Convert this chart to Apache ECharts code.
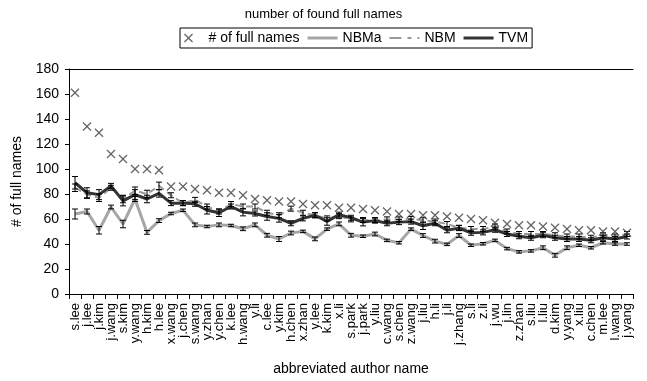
<!DOCTYPE html>
<html>
<head>
<meta charset="utf-8">
<script src="https://cdn.jsdelivr.net/npm/echarts@6/dist/echarts.min.js"></script>
<style>
  html, body { margin: 0; padding: 0; background: #fff; }
  #chart { width: 647px; height: 381px; }
</style>
</head>
<body>
<div id="chart"></div>
<script>
// Abbreviated author names (x axis categories)
const categories = [
  's.lee', 'j.lee', 'j.kim', 'j.wang', 's.kim', 'y.wang', 'h.kim', 'h.lee',
  'x.wang', 'j.chen', 's.wang', 'y.zhan', 'y.chen', 'k.lee', 'h.wang', 'y.li',
  'c.lee', 'y.kim', 'h.chen', 'x.zhan', 'y.lee', 'k.kim', 'x.li', 's.park',
  'j.park', 'y.liu', 'c.wang', 's.chen', 'z.wang', 'j.liu', 'h.li', 'j.li',
  'j.zhang', 's.li', 'z.li', 'j.wu', 'j.lin', 'z.zhan', 's.liu', 'l.liu',
  'd.kim', 'y.yang', 'x.liu', 'c.chen', 'm.lee', 'l.wang', 'j.yang'
];

// Number of full names found for each abbreviation
const fullNames = [
  161, 134, 129, 112, 108, 100, 100, 99,
  86, 86, 84, 83, 81, 81, 79, 76,
  75, 74, 74, 72, 71, 71, 69, 69,
  68, 67, 66, 64, 64, 63, 63, 62,
  61, 60, 59, 57, 56, 55, 55, 54,
  53, 52, 51, 51, 50, 50, 49
];

// NBMa: mean and error
const nbmaMean = [
  64, 66, 51, 69.6, 56, 76, 49.3, 58.7,
  64.4, 67, 55.3, 54, 55.3, 54.8, 52.2, 55.3,
  47, 44, 48.8, 50.1, 44.1, 51.9, 56.1, 47,
  46.2, 48, 42.9, 41, 51.9, 46.8, 42.3, 39.7,
  46.8, 39, 40.2, 42.9, 36.3, 33.7, 34.5, 37,
  31, 37, 39, 37, 41, 40, 40
];
const nbmaErr = [
  4, 2, 3, 1.5, 3, 2, 1.5, 1.5,
  1, 1, 1.5, 1, 1.5, 1, 1.5, 1.5,
  1.5, 2, 1.5, 1, 1.5, 1, 1.5, 1.5,
  1, 1.5, 1, 1, 1, 1.5, 1.5, 1,
  1.5, 1, 1, 1, 1, 1, 1, 1.5,
  1.5, 1.5, 1, 1, 1, 1, 1
];

// NBM: mean and error
const nbmMean = [
  85, 79.5, 77, 85, 76, 82.6, 80, 86.5,
  79, 72.7, 75.3, 70, 66, 72, 70, 70,
  65, 63, 68.3, 65, 63, 60.5, 62.3, 59.7,
  59.2, 59.2, 59.7, 59.7, 60, 59, 58, 56,
  53, 52, 52, 54, 50, 48, 48, 48,
  47, 46, 46, 45, 47, 46, 48
];
const nbmErr = [
  3, 3, 3, 2, 3, 3, 3, 3,
  2, 2, 2, 2, 2, 2, 2, 2,
  2, 2, 2, 2, 2, 2, 2, 2,
  2, 2, 2, 2, 2, 2, 2, 2,
  2, 2, 2, 2, 2, 2, 2, 2,
  2, 2, 2, 2, 2, 2, 2
];

// TVM: mean and error
const tvmMean = [
  89, 81, 79.5, 86.5, 74.5, 79.5, 76, 80.5,
  72.7, 72.7, 72.2, 67, 65, 70, 65.5, 64.4,
  62, 60.5, 56.6, 60.5, 63, 58, 63.5, 61,
  57.5, 58.7, 56.6, 57.5, 57.9, 54.6, 56.6, 51,
  52.7, 49, 49.3, 51.4, 48, 46.2, 45, 47,
  45, 44, 44, 43, 45, 44, 46
];
const tvmErr = [
  5, 4, 4, 2, 4, 4, 3, 3,
  2, 2, 2, 3, 3, 2, 3, 2,
  3, 3, 2, 2, 2, 3, 2, 2,
  3, 2, 2, 2, 2, 3, 2, 2,
  2, 2, 2, 2, 2, 2, 2, 2,
  2, 2, 2, 2, 2, 2, 2
];

const yTicks = { min: 0, max: 180, interval: 20 };

const FONT = 'Liberation Sans, Arial, sans-serif';
const CROSS = 'path://M0,1L1,0L5,4L9,0L10,1L6,5L10,9L9,10L5,6L1,10L0,9L4,5Z';
// Legend swatches: solid bar and long-short dash
const SOLID_ICON = 'path://M0,0L30,0L30,3L0,3Z';
const DASH_ICON = 'path://M0,0L12,0L12,2L0,2Z M18,0L22,0L22,2L18,2Z M28,0L30,0L30,2L28,2Z';

function errorData(mean, err) {
  return mean.map((m, i) => [i, m - err[i], m + err[i]]);
}

function renderErrorBar(params, api) {
  const x = api.value(0);
  const lo = api.coord([x, api.value(1)]);
  const hi = api.coord([x, api.value(2)]);
  const half = 3;
  const style = { stroke: '#000', lineWidth: 1, fill: null };
  return {
    type: 'group',
    children: [
      { type: 'line', shape: { x1: lo[0], y1: lo[1], x2: hi[0], y2: hi[1] }, style },
      { type: 'line', shape: { x1: lo[0] - half, y1: lo[1], x2: lo[0] + half, y2: lo[1] }, style },
      { type: 'line', shape: { x1: hi[0] - half, y1: hi[1], x2: hi[0] + half, y2: hi[1] }, style }
    ]
  };
}

function errorSeries(name, mean, err) {
  return {
    name: name,
    type: 'custom',
    renderItem: renderErrorBar,
    data: errorData(mean, err),
    encode: { x: 0, y: [1, 2] },
    z: 5,
    silent: true
  };
}

const chart = echarts.init(document.getElementById('chart'), null, { renderer: 'canvas' });

chart.setOption({
  animation: false,
  backgroundColor: '#fff',
  textStyle: { fontFamily: FONT, color: '#000' },
  title: {
    text: 'number of found full names',
    left: 'center',
    top: 3,
    textStyle: { fontFamily: FONT, fontSize: 13, fontWeight: 'normal', color: '#000' }
  },
  legend: {
    left: 180,
    top: 28,
    padding: [3, 4],
    itemGap: 8,
    itemWidth: 30,
    itemHeight: 9,
    borderColor: '#000',
    borderWidth: 1,
    borderRadius: 0,
    symbolKeepAspect: true,
    textStyle: { fontFamily: FONT, fontSize: 14, color: '#000' },
    data: [
      { name: '# of full names', icon: CROSS, itemStyle: { color: '#404040' } },
      { name: 'NBMa', icon: SOLID_ICON, itemStyle: { color: '#a6a6a6' } },
      { name: 'NBM', icon: DASH_ICON, itemStyle: { color: '#999999' } },
      { name: 'TVM', icon: SOLID_ICON, itemStyle: { color: '#333333' } }
    ]
  },
  grid: { left: 69, right: 14, top: 69, bottom: 82 },
  xAxis: [
    {
      type: 'category',
      data: categories,
      boundaryGap: true,
      name: 'abbreviated author name',
      nameLocation: 'middle',
      nameGap: 68,
      nameTextStyle: { fontFamily: FONT, fontSize: 14, color: '#000' },
      axisLine: { lineStyle: { color: '#000', width: 1 } },
      axisTick: { show: true, length: 5, lineStyle: { color: '#000' }, alignWithLabel: false },
      axisLabel: { interval: 0, rotate: 90, fontSize: 13, color: '#000', margin: 9, fontFamily: FONT },
      splitLine: { show: false }
    },
    {
      type: 'category',
      data: categories,
      position: 'top',
      axisLine: { show: true, lineStyle: { color: '#000', width: 1 } },
      axisTick: { show: false },
      axisLabel: { show: false },
      splitLine: { show: false }
    }
  ],
  yAxis: {
    type: 'value',
    min: yTicks.min,
    max: yTicks.max,
    interval: yTicks.interval,
    name: '# of full names',
    nameLocation: 'middle',
    nameGap: 45,
    nameTextStyle: { fontFamily: FONT, fontSize: 14, color: '#000' },
    axisLine: { show: true, lineStyle: { color: '#000', width: 1 } },
    axisTick: { show: true, length: 4, lineStyle: { color: '#000' } },
    axisLabel: { fontSize: 14, color: '#000', margin: 10, fontFamily: FONT },
    splitLine: { show: false }
  },
  series: [
    {
      name: '# of full names',
      type: 'scatter',
      data: fullNames,
      symbol: CROSS,
      symbolSize: 9,
      itemStyle: { color: '#404040' },
      z: 6
    },
    {
      name: 'NBMa',
      type: 'line',
      data: nbmaMean,
      symbol: 'none',
      lineStyle: { color: '#a6a6a6', width: 3 },
      itemStyle: { color: '#a6a6a6' },
      z: 2
    },
    {
      name: 'NBM',
      type: 'line',
      data: nbmMean,
      symbol: 'none',
      lineStyle: { color: '#999999', width: 2, type: [7, 4] },
      itemStyle: { color: '#999999' },
      z: 3
    },
    {
      name: 'TVM',
      type: 'line',
      data: tvmMean,
      symbol: 'none',
      lineStyle: { color: '#333333', width: 3 },
      itemStyle: { color: '#333333' },
      z: 4
    },
    errorSeries('NBMa error', nbmaMean, nbmaErr),
    errorSeries('NBM error', nbmMean, nbmErr),
    errorSeries('TVM error', tvmMean, tvmErr)
  ]
});
</script>
</body>
</html>
